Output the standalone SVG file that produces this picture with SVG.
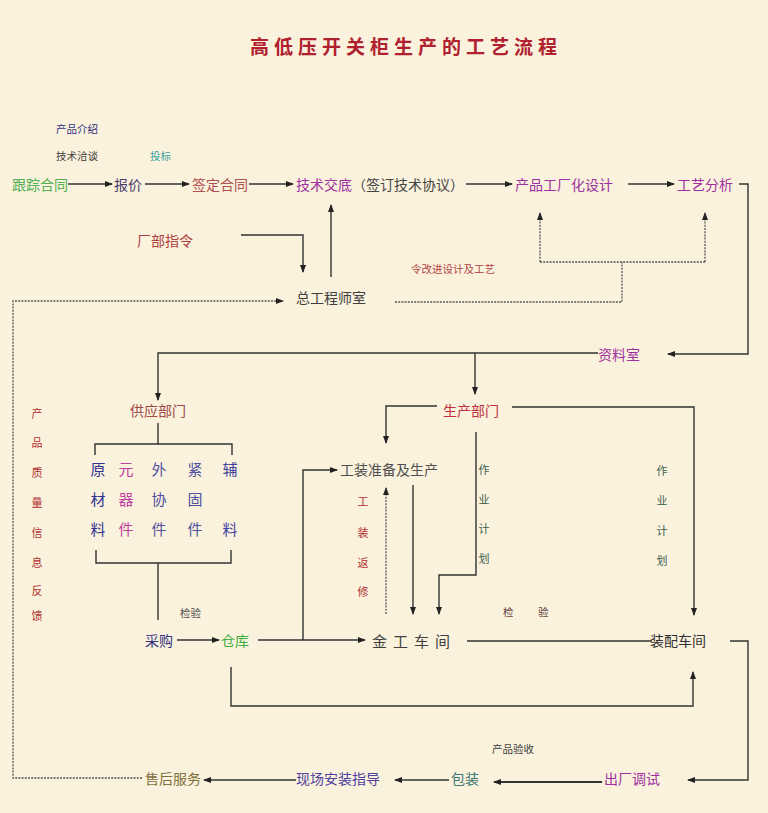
<svg xmlns="http://www.w3.org/2000/svg" width="768" height="813" viewBox="0 0 768 813">
<style>
text{font-family:"Noto Sans CJK SC","Noto Sans",sans-serif;dominant-baseline:central}
.m{font-size:14px}
.s{font-size:10.5px}
.v{font-size:11px}
.ln{fill:none;stroke:#333;stroke-width:1.4}
.lt{fill:none;stroke:#333;stroke-width:2}
.dt{fill:none;stroke:#555;stroke-width:1.3;stroke-dasharray:2 1.2}
</style>
<defs>
<marker id="ah" markerUnits="userSpaceOnUse" markerWidth="8" markerHeight="6" refX="7" refY="3" orient="auto">
<path d="M0,0 L8,3 L0,6 z" fill="#222"/>
</marker>
</defs>
<rect width="768" height="813" fill="#faf2dc"/>
<g id="title"><text x="250" y="45" style="font-size:19px;font-weight:bold;letter-spacing:5px" fill="#b0202e">高低压开关柜生产的工艺流程</text></g>

<g id="connectors">
<path class="ln" d="M68,184 H112" marker-end="url(#ah)"/>
<path class="ln" d="M145,184 H189" marker-end="url(#ah)"/>
<path class="ln" d="M249,184 H293" marker-end="url(#ah)"/>
<path class="ln" d="M466,184 H512" marker-end="url(#ah)"/>
<path class="ln" d="M628,184 H674" marker-end="url(#ah)"/>
<path class="ln" d="M241,235 H303 V272" marker-end="url(#ah)"/>
<path class="ln" d="M331,277 V205" marker-end="url(#ah)"/>
<path class="dt" d="M142,778 H13 V301 H283" marker-end="url(#ah)"/>
<path class="dt" d="M395,302 H622 V262"/>
<path class="dt" d="M540,262 H705"/>
<path class="dt" d="M540,262 V213" marker-end="url(#ah)"/>
<path class="dt" d="M705,262 V213" marker-end="url(#ah)"/>
<path class="ln" d="M739,184 H748 V354 H668" marker-end="url(#ah)"/>
<path class="ln" d="M598,353 H158 V400" marker-end="url(#ah)"/>
<path class="ln" d="M475,353 V394" marker-end="url(#ah)"/>
<path class="ln" d="M158,423 V444"/>
<path class="ln" d="M95,455 V444 H232 V455"/>
<path class="ln" d="M96,550 V563 H231 V550"/>
<path class="ln" d="M158,563 V620"/>
<path class="ln" d="M177,640 H219" marker-end="url(#ah)"/>
<path class="ln" d="M258,640 H365" marker-end="url(#ah)"/>
<path class="ln" d="M303,640 V470 H337" marker-end="url(#ah)"/>
<path class="ln" d="M231,667 V706 H693 V672" marker-end="url(#ah)"/>
<path class="ln" d="M437,406 H386 V443" marker-end="url(#ah)"/>
<path class="ln" d="M512,407 H694 V615" marker-end="url(#ah)"/>
<path class="ln" d="M476,432 V575 H439 V614" marker-end="url(#ah)"/>
<path class="ln" d="M413,485 V614" marker-end="url(#ah)"/>
<path class="dt" d="M386,614 V488" marker-end="url(#ah)"/>
<path class="ln" d="M467,641 H652"/>
<path class="ln" d="M730,641 H748 V780 H688" marker-end="url(#ah)"/>
<path class="lt" d="M602,782 H494" marker-end="url(#ah)"/>
<path class="ln" d="M449,780 H395" marker-end="url(#ah)"/>
<path class="ln" d="M296,780 H204" marker-end="url(#ah)"/>
</g>

<g id="n-genzong"><text class="m" x="12" y="184" fill="#52b052">跟踪合同</text></g>
<g id="l-jieshao"><text class="s" x="56" y="128" fill="#303080">产品介绍</text><text class="s" x="56" y="155" fill="#404040">技术洽谈</text></g>
<g id="n-baojia"><text class="m" x="114" y="184" fill="#4a3a6a">报价</text></g>
<g id="l-toubiao"><text class="s" x="150" y="155" fill="#3aa0a0">投标</text></g>
<g id="n-qianding"><text class="m" x="192" y="184" fill="#b05050">签定合同</text></g>
<g id="n-jishu"><text class="m" x="296" y="184"><tspan fill="#a030a0">技术交底</tspan><tspan fill="#444">（签订技术协议）</tspan></text></g>
<g id="n-sheji"><text class="m" x="515" y="184" fill="#a030a0">产品工厂化设计</text></g>
<g id="n-gongyi"><text class="m" x="677" y="184" fill="#a030a0">工艺分析</text></g>
<g id="n-changbu"><text class="m" x="137" y="240" fill="#b04040">厂部指令</text></g>
<g id="n-zonggong"><text class="m" x="296" y="297" fill="#404040">总工程师室</text></g>
<g id="l-gaijin"><text class="s" x="411" y="268" fill="#b04040">令改进设计及工艺</text></g>
<g id="n-ziliao"><text class="m" x="598" y="354" fill="#a030a0">资料室</text></g>
<g id="l-fankui"><text class="v" fill="#b03030" text-anchor="middle"><tspan x="37" y="413">产</tspan><tspan x="37" y="442">品</tspan><tspan x="37" y="472">质</tspan><tspan x="37" y="502">量</tspan><tspan x="37" y="532">信</tspan><tspan x="37" y="562">息</tspan><tspan x="37" y="590">反</tspan><tspan x="37" y="615">馈</tspan></text></g>
<g id="n-gongying"><text class="m" x="130" y="410" fill="#a04848">供应部门</text></g>
<g id="n-cailiao" style="font-size:15px" text-anchor="middle">
<text x="98" fill="#303090"><tspan x="98" y="468">原</tspan><tspan x="98" y="498">材</tspan><tspan x="98" y="528">料</tspan></text>
<text fill="#c040a0"><tspan x="126" y="468">元</tspan><tspan x="126" y="498">器</tspan><tspan x="126" y="528">件</tspan></text>
<text fill="#5050a0"><tspan x="159" y="468">外</tspan><tspan x="159" y="498">协</tspan><tspan x="159" y="528">件</tspan></text>
<text fill="#5050a0"><tspan x="195" y="468">紧</tspan><tspan x="195" y="498">固</tspan><tspan x="195" y="528">件</tspan></text>
<text fill="#4040a0"><tspan x="230" y="468">辅</tspan><tspan x="230" y="528">料</tspan></text>
</g>
<g id="l-jianyan1"><text class="s" x="180" y="612" fill="#505050">检验</text></g>
<g id="n-caigou"><text class="m" x="145" y="640" fill="#303080">采购</text></g>
<g id="n-cangku"><text class="m" x="221" y="640" fill="#40b040">仓库</text></g>
<g id="n-shengchan"><text class="m" x="443" y="410" fill="#c03040">生产部门</text></g>
<g id="n-gongzhuang"><text class="m" x="340" y="469" fill="#505050">工装准备及生产</text></g>
<g id="l-fanxiu"><text class="v" fill="#b03030" text-anchor="middle"><tspan x="363" y="501">工</tspan><tspan x="363" y="532">装</tspan><tspan x="363" y="562">返</tspan><tspan x="363" y="591">修</tspan></text></g>
<g id="l-jihua1"><text class="v" fill="#406050" text-anchor="middle"><tspan x="484" y="469">作</tspan><tspan x="484" y="499">业</tspan><tspan x="484" y="528">计</tspan><tspan x="484" y="558">划</tspan></text></g>
<g id="l-jihua2"><text class="v" fill="#406050" text-anchor="middle"><tspan x="662" y="470">作</tspan><tspan x="662" y="500">业</tspan><tspan x="662" y="530">计</tspan><tspan x="662" y="560">划</tspan></text></g>
<g id="n-jingong"><text x="372" y="640" style="font-size:15px;letter-spacing:6px" fill="#404040">金工车间</text></g>
<g id="l-jianyan2"><text class="s" fill="#604040"><tspan x="503" y="611">检</tspan><tspan x="538" y="611">验</tspan></text></g>
<g id="n-zhuangpei"><text class="m" x="650" y="640" fill="#303030">装配车间</text></g>
<g id="l-yanshou"><text class="s" x="492" y="748" fill="#404040">产品验收</text></g>
<g id="n-tiaoshi"><text class="m" x="604" y="778" fill="#a030a0">出厂调试</text></g>
<g id="n-baozhuang"><text class="m" x="451" y="778" fill="#407878">包装</text></g>
<g id="n-xianchang"><text class="m" x="296" y="778" fill="#5040a0">现场安装指导</text></g>
<g id="n-shouhou"><text class="m" x="145" y="778" fill="#807040">售后服务</text></g>
</svg>
